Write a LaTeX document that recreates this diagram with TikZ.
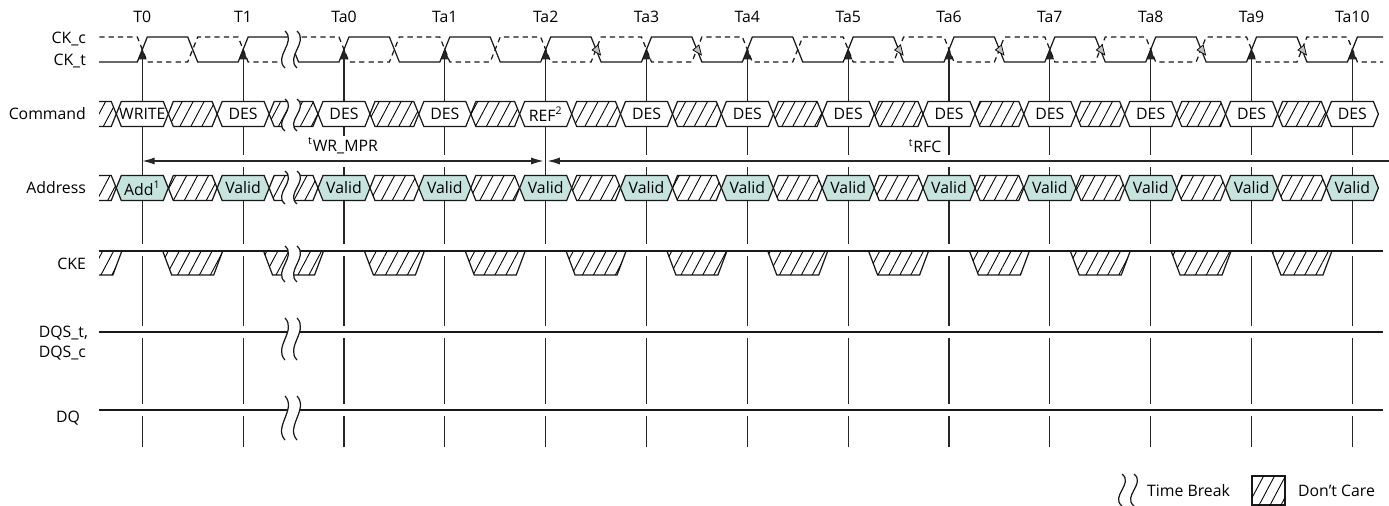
\documentclass[tikz,border=0pt]{standalone}
\usepackage{fontspec}
\setmainfont{Open Sans}
\usetikzlibrary{arrows.meta,patterns.meta}
\definecolor{validfill}{RGB}{198,228,221}

% hexagon: style, centre x, centre y, half width
\newcommand{\hexa}[4]{%
  \draw[#1] (#2-#4,#3) -- (#2-#4+5,#3-12.5) -- (#2+#4-5,#3-12.5) -- (#2+#4,#3)
    -- (#2+#4-5,#3+12.5) -- (#2-#4+5,#3+12.5) -- cycle;}
% time break: x, top, bottom
\newcommand{\brk}[3]{%
  \fill[white] (#1,#2) .. controls (#1+12,{#2+0.3*(#3-#2)}) and (#1-12,{#2+0.7*(#3-#2)}) .. (#1,#3)
    -- (#1+12,#3) .. controls (#1,{#2+0.7*(#3-#2)}) and (#1+24,{#2+0.3*(#3-#2)}) .. (#1+12,#2) -- cycle;
  \draw[sig] (#1,#2) .. controls (#1+12,{#2+0.3*(#3-#2)}) and (#1-12,{#2+0.7*(#3-#2)}) .. (#1,#3);
  \draw[sig] (#1+12,#2) .. controls (#1+24,{#2+0.3*(#3-#2)}) and (#1,{#2+0.7*(#3-#2)}) .. (#1+12,#3);}

\begin{document}
\begin{tikzpicture}
        [x=0.02cm,y=-0.02cm,font=\fontsize{9}{11}\selectfont,
         every node/.style={inner sep=1pt},
         sig/.style={line width=0.7pt,black!90},
         ckc/.style={sig,dash pattern=on 3pt off 2.3pt},
         box/.style={sig,fill=white},
         vbox/.style={sig,fill=validfill},
         dc/.style={sig,fill=white,postaction={pattern={Lines[angle=62,distance=5.5pt,line width=0.5pt]}}},
         halo/.style={white,line width=7pt},
         tick/.style={line width=0.7pt,black!85,-{Latex[length=7pt,width=5pt]}},
         dim/.style={line width=0.7pt,black!85,{Latex[length=7pt,width=4pt]}-{Latex[length=7pt,width=4pt]}},
         lbl/.style={anchor=east}]
        \useasboundingbox (0,0) rectangle (1389,506);

        % clock edges
        \foreach \nm [count=\i from 0] in {T0,T1,Ta0,Ta1,Ta2,Ta3,Ta4,Ta5,Ta6,Ta7,Ta8,Ta9,Ta10}{
          \pgfmathsetmacro\tx{142.3+100.84*\i}
          \node (l\nm) at (\tx,17) {\nm};
          \coordinate (e\nm) at (\tx,47);
          \coordinate (b\nm) at (\tx,447);
          \draw[tick] (b\nm) -- (e\nm);
        }

        % gaps round the lines
        \draw[halo] (145,161) -- (541,161);
        \draw[halo] (550,161) -- (1389,161);
        \draw[halo] (99,250) -- (1383,250);
        \draw[halo] (99,332) -- (1383,332);
        \draw[halo] (99,410) -- (1383,410);

        \begin{scope}
          \clip (99,0) rectangle (1383,506);
          % CK_t, CK_c
          \draw[sig] (90,62) \foreach \i in {0,...,12}{
            -- ({142.3+100.84*\i-5},62) -- ({142.3+100.84*\i+5},37)
            -- ({142.3+100.84*\i+45.4},37) -- ({142.3+100.84*\i+55.4},62)};
          \draw[ckc] (90,37) \foreach \i in {0,...,12}{
            -- ({142.3+100.84*\i-5},37) -- ({142.3+100.84*\i+5},62)
            -- ({142.3+100.84*\i+45.4},62) -- ({142.3+100.84*\i+55.4},37)};

          % don't care
          \foreach \i in {-1,...,11}{
            \pgfmathsetmacro\tx{142.3+100.84*\i+50.4}
            \hexa{dc}{\tx}{114}{24.4}
            \hexa{dc}{\tx}{188}{24.4}
            \draw[dc] (\tx-30,251) -- (\tx-21,275) -- (\tx+21,275) -- (\tx+30,251);
          }

          % Command
          \foreach \cmd [count=\i from 0] in {WRITE,DES,DES,DES,REF\textsuperscript{2},DES,DES,DES,DES,DES,DES,DES,DES}{
            \pgfmathsetmacro\tx{142.3+100.84*\i}
            \hexa{box}{\tx}{114}{26}
            \node (cmd\i) at (\tx,114) {\cmd};
          }
          % Address
          \foreach \adr [count=\i from 0] in {Add\textsuperscript{1},Valid,Valid,Valid,Valid,Valid,Valid,Valid,Valid,Valid,Valid,Valid,Valid}{
            \pgfmathsetmacro\tx{142.3+100.84*\i}
            \hexa{vbox}{\tx}{188}{26}
            \node (adr\i) at (\tx,188) {\adr};
          }

          \draw[sig] (99,251) -- (1383,251);
          \draw[sig] (99,332) -- (1383,332);
          \draw[sig] (99,410) -- (1383,410);
        \end{scope}

        % CK_c rising
        \foreach \i in {4,5,7,8,9,10,11}{
          \pgfmathsetmacro\tx{142.3+100.84*\i+50.4}
          \draw[line width=0.4pt,fill=black!25] (\tx-4,50) -- (\tx+2,45) -- (\tx+4.5,55) -- cycle;
        }

        % time breaks
        \brk{285}{31}{68}
        \brk{285}{99}{131}
        \brk{285}{171}{204}
        \brk{285}{246}{282}
        \brk{285}{318}{360}
        \brk{285}{396}{440}

        % timings
        \coordinate (w0) at (142.3,161);
        \coordinate (w1) at (543.5,161);
        \coordinate (r0) at (547.5,161);
        \coordinate (r1) at (1389,161);
        \draw[dim] (w0) -- (w1);
        \draw[line width=0.7pt,black!85,{Latex[length=7pt,width=4pt]}-] (r0) -- (r1);
        \node[fill=white] (twr) at (343,146) {\textsuperscript{t}WR\_MPR};
        \node[fill=white] (trfc) at (925,146) {\textsuperscript{t}RFC};

        % signal names
        \node[lbl] (nckc) at (88,39) {CK\_c};
        \node[lbl] (nckt) at (88,61) {CK\_t};
        \node[lbl] (ncmd) at (88,114) {Command};
        \node[lbl] (nadr) at (88,188) {Address};
        \node[lbl] (ncke) at (88,264) {CKE};
        \node[lbl] (ndqs) at (90,333) {DQS\_t,};
        \node[lbl] (ndqsc) at (88,353) {DQS\_c};
        \node[lbl] (ndq) at (82,418) {DQ};

        % legend
        \brk{1122}{474}{506}
        \node[anchor=west] (ltb) at (1145,491) {Time Break};
        \draw[dc] (1252,476) rectangle (1285,505);
        \node[anchor=west] (ldc) at (1296,491) {Don’t Care};
    \end{tikzpicture}
\end{document}
